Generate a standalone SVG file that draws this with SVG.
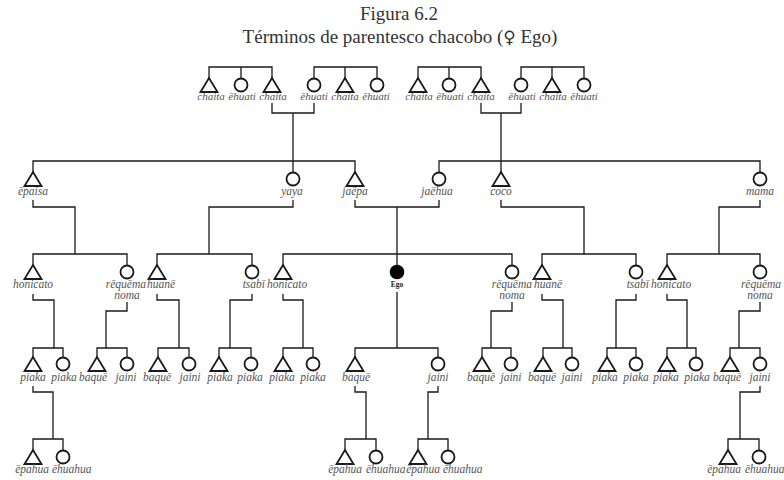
<svg xmlns="http://www.w3.org/2000/svg" xmlns:xlink="http://www.w3.org/1999/xlink" width="784" height="480" viewBox="0 0 784 480">
  <style>
    .ttl { font-family: "Liberation Serif", "DejaVu Serif", serif; font-size: 19px; fill: #333; text-anchor: middle; }
    .sex { font-family: "DejaVu Sans", sans-serif; font-size: 17px; }
    .lbl { font-family: "Liberation Serif", "DejaVu Serif", serif; font-style: italic; font-size: 11.5px; fill: #555; text-anchor: middle; }
    .lbs { font-family: "Liberation Serif", "DejaVu Serif", serif; font-style: italic; font-size: 11px; fill: #555; text-anchor: middle; }
    .st { text-anchor: start; }
    .en { text-anchor: end; }
    .ego { font-family: "Liberation Serif", "DejaVu Serif", serif; font-weight: bold; font-size: 7.5px; fill: #222; text-anchor: middle; }
    .sym { fill: #fff; stroke: #1a1a1a; stroke-width: 1.8; }
    .me { fill: #000; stroke: #000; stroke-width: 1.6; }
    .ln { fill: none; stroke: #1a1a1a; stroke-width: 1.3; }
  </style>
  <defs>
    <!-- male: triangle with apex at origin -->
    <path id="m" d="M0,0 L8.5,14 L-8.5,14 Z"/>
    <!-- female: circle hanging from origin -->
    <circle id="f" cx="0" cy="7" r="6.5"/>
  </defs>

  <text class="ttl" x="399" y="20">Figura 6.2</text>
  <text class="ttl" x="400" y="43">Términos de parentesco chacobo (<tspan class="sex">♀</tspan> Ego)</text>

  <!-- connectors -->
  <g id="connectors" class="ln">
    <!-- grandparent sibling sets -->
    <path d="M209,78 V67 H272 V78 M241,67 V78"/>
    <path d="M314,78 V67 H377 V78 M345,67 V78"/>
    <path d="M418,78 V67 H481 V78 M449,67 V78"/>
    <path d="M521,78 V67 H584 V78 M552,67 V78"/>
    <path d="M272,103 V113 H314 V103 M293,113 V172"/>
    <path d="M481,103 V113 H521 V103 M501,113 V172"/>
    <!-- parents' generation -->
    <path d="M33,172 V161 H355 V172"/>
    <path d="M439,172 V161 H760 V172"/>
    <!-- parents to Ego's generation -->
    <path d="M33,200 V207 H75 V254"/>
    <path d="M293,200 V207 H209 V254"/>
    <path d="M355,200 V207 H439 V200 M397,207 V265"/>
    <path d="M501,200 V207 H584 V254"/>
    <path d="M760,200 V207 H719 V254"/>
    <path d="M33,265 V254 H127 V265"/>
    <path d="M157,265 V254 H252 V265"/>
    <path d="M283,265 V254 H512 V265"/>
    <path d="M542,265 V254 H636 V265"/>
    <path d="M667,265 V254 H760 V265"/>
    <!-- Ego's generation to children -->
    <path d="M33,294 V300 H54 V348"/>
    <path d="M127,302 V311 H106 V348"/>
    <path d="M157,294 V300 H179 V348"/>
    <path d="M252,294 V300 H230 V348"/>
    <path d="M283,294 V300 H303 V348"/>
    <path d="M397,292 V348"/>
    <path d="M512,302 V311 H491 V348"/>
    <path d="M542,294 V300 H563 V348"/>
    <path d="M636,294 V300 H616 V348"/>
    <path d="M667,294 V300 H687 V348"/>
    <path d="M760,302 V311 H739 V348"/>
    <path d="M33,357 V348 H63 V357"/>
    <path d="M97,357 V348 H127 V357"/>
    <path d="M158,357 V348 H189 V357"/>
    <path d="M219,357 V348 H251 V357"/>
    <path d="M283,357 V348 H313 V357"/>
    <path d="M355,357 V348 H438 V357"/>
    <path d="M482,357 V348 H511 V357"/>
    <path d="M543,357 V348 H572 V357"/>
    <path d="M607,357 V348 H636 V357"/>
    <path d="M667,357 V348 H696 V357"/>
    <path d="M730,357 V348 H760 V357"/>
    <!-- children to grandchildren -->
    <path d="M33,386 V392 H53 V439"/>
    <path d="M355,386 V392 H366 V439"/>
    <path d="M438,386 V392 H428 V439"/>
    <path d="M760,386 V392 H740 V439"/>
    <path d="M33,450 V439 H63 V450"/>
    <path d="M345,450 V439 H376 V450"/>
    <path d="M418,450 V439 H448 V450"/>
    <path d="M728,450 V439 H759 V450"/>
  </g>

  <!-- grandparents' generation -->
  <g id="g1a"><use href="#m" class="sym" x="209" y="78"/><text class="lbs" x="211" y="100">chaita</text></g>
  <g id="g1b"><use href="#f" class="sym" x="241" y="78"/><text class="lbs" x="242" y="100">ēhuati</text></g>
  <g id="g1c"><use href="#m" class="sym" x="272" y="78"/><text class="lbs" x="273" y="100">chaita</text></g>
  <g id="g2a"><use href="#f" class="sym" x="314" y="78"/><text class="lbs" x="314" y="100">ēhuati</text></g>
  <g id="g2b"><use href="#m" class="sym" x="345" y="78"/><text class="lbs" x="345" y="100">chaita</text></g>
  <g id="g2c"><use href="#f" class="sym" x="377" y="78"/><text class="lbs" x="376" y="100">ēhuati</text></g>
  <g id="g3a"><use href="#m" class="sym" x="418" y="78"/><text class="lbs" x="419" y="100">chaita</text></g>
  <g id="g3b"><use href="#f" class="sym" x="449" y="78"/><text class="lbs" x="450" y="100">ēhuati</text></g>
  <g id="g3c"><use href="#m" class="sym" x="481" y="78"/><text class="lbs" x="481" y="100">chaita</text></g>
  <g id="g4a"><use href="#f" class="sym" x="521" y="78"/><text class="lbs" x="522" y="100">ēhuati</text></g>
  <g id="g4b"><use href="#m" class="sym" x="552" y="78"/><text class="lbs" x="553" y="100">chaita</text></g>
  <g id="g4c"><use href="#f" class="sym" x="584" y="78"/><text class="lbs" x="584" y="100">ēhuati</text></g>

  <!-- parents' generation -->
  <g id="epaisa"><use href="#m" class="sym" x="33" y="172"/><text class="lbl" x="33" y="195">ēpaisa</text></g>
  <g id="yaya"><use href="#f" class="sym" x="293" y="172"/><text class="lbl" x="292" y="195">yaya</text></g>
  <g id="jaepa"><use href="#m" class="sym" x="355" y="172"/><text class="lbl" x="355" y="195">jaëpa</text></g>
  <g id="jaehua"><use href="#f" class="sym" x="439" y="172"/><text class="lbl" x="437" y="195">jaëhua</text></g>
  <g id="coco"><use href="#m" class="sym" x="501" y="172"/><text class="lbl" x="501" y="195">coco</text></g>
  <g id="mama"><use href="#f" class="sym" x="760" y="172"/><text class="lbl" x="760" y="195">mama</text></g>

  <!-- Ego's generation -->
  <g id="honicato1"><use href="#m" class="sym" x="33" y="265"/><text class="lbl" x="33" y="288">honicato</text></g>
  <g id="requema1"><use href="#f" class="sym" x="127" y="265"/><text class="lbl en" x="146" y="288">rēquēma</text><text class="lbl" x="127" y="299">noma</text></g>
  <g id="huane1"><use href="#m" class="sym" x="157" y="265"/><text class="lbl st" x="147" y="288">huanē</text></g>
  <g id="tsabi1"><use href="#f" class="sym" x="252" y="265"/><text class="lbl en" x="265" y="288">tsabī</text></g>
  <g id="honicato2"><use href="#m" class="sym" x="283" y="265"/><text class="lbl st" x="267" y="288">honicato</text></g>
  <g id="ego"><use href="#f" class="me" x="397" y="265"/><text class="ego" x="397" y="287">Ego</text></g>
  <g id="requema2"><use href="#f" class="sym" x="512" y="265"/><text class="lbl en" x="532" y="288">rēquēma</text><text class="lbl" x="512" y="299">noma</text></g>
  <g id="huane2"><use href="#m" class="sym" x="542" y="265"/><text class="lbl st" x="534" y="288">huanē</text></g>
  <g id="tsabi2"><use href="#f" class="sym" x="636" y="265"/><text class="lbl en" x="649" y="288">tsabī</text></g>
  <g id="honicato3"><use href="#m" class="sym" x="667" y="265"/><text class="lbl st" x="651" y="288">honicato</text></g>
  <g id="requema3"><use href="#f" class="sym" x="760" y="265"/><text class="lbl" x="761" y="288">rēquēma</text><text class="lbl" x="760" y="299">noma</text></g>

  <!-- children's generation -->
  <g id="c1"><use href="#m" class="sym" x="33" y="357"/><text class="lbl" x="33" y="381">piaka</text></g>
  <g id="c2"><use href="#f" class="sym" x="63" y="357"/><text class="lbl" x="64" y="381">piaka</text></g>
  <g id="c3"><use href="#m" class="sym" x="97" y="357"/><text class="lbl" x="93" y="381">baquē</text></g>
  <g id="c4"><use href="#f" class="sym" x="127" y="357"/><text class="lbl" x="126" y="381">jaini</text></g>
  <g id="c5"><use href="#m" class="sym" x="158" y="357"/><text class="lbl" x="157" y="381">baquē</text></g>
  <g id="c6"><use href="#f" class="sym" x="189" y="357"/><text class="lbl" x="190" y="381">jaini</text></g>
  <g id="c7"><use href="#m" class="sym" x="219" y="357"/><text class="lbl" x="220" y="381">piaka</text></g>
  <g id="c8"><use href="#f" class="sym" x="251" y="357"/><text class="lbl" x="250" y="381">piaka</text></g>
  <g id="c9"><use href="#m" class="sym" x="283" y="357"/><text class="lbl" x="282" y="381">piaka</text></g>
  <g id="c10"><use href="#f" class="sym" x="313" y="357"/><text class="lbl" x="313" y="381">piaka</text></g>
  <g id="c11"><use href="#m" class="sym" x="355" y="357"/><text class="lbl" x="356" y="381">baquē</text></g>
  <g id="c12"><use href="#f" class="sym" x="438" y="357"/><text class="lbl" x="438" y="381">jaini</text></g>
  <g id="c13"><use href="#m" class="sym" x="482" y="357"/><text class="lbl" x="481" y="381">baquē</text></g>
  <g id="c14"><use href="#f" class="sym" x="511" y="357"/><text class="lbl" x="511" y="381">jaini</text></g>
  <g id="c15"><use href="#m" class="sym" x="543" y="357"/><text class="lbl" x="542" y="381">baquē</text></g>
  <g id="c16"><use href="#f" class="sym" x="572" y="357"/><text class="lbl" x="572" y="381">jaini</text></g>
  <g id="c17"><use href="#m" class="sym" x="607" y="357"/><text class="lbl" x="605" y="381">piaka</text></g>
  <g id="c18"><use href="#f" class="sym" x="636" y="357"/><text class="lbl" x="636" y="381">piaka</text></g>
  <g id="c19"><use href="#m" class="sym" x="667" y="357"/><text class="lbl" x="666" y="381">piaka</text></g>
  <g id="c20"><use href="#f" class="sym" x="696" y="357"/><text class="lbl" x="697" y="381">piaka</text></g>
  <g id="c21"><use href="#m" class="sym" x="730" y="357"/><text class="lbl" x="727" y="381">baquē</text></g>
  <g id="c22"><use href="#f" class="sym" x="760" y="357"/><text class="lbl" x="760" y="381">jaini</text></g>

  <!-- grandchildren's generation -->
  <g id="n1"><use href="#m" class="sym" x="33" y="450"/><text class="lbl en" x="49" y="473">ēpahua</text></g>
  <g id="n2"><use href="#f" class="sym" x="63" y="450"/><text class="lbl st" x="52" y="473">ēhuahua</text></g>
  <g id="n3"><use href="#m" class="sym" x="345" y="450"/><text class="lbl en" x="362" y="473">ēpahua</text></g>
  <g id="n4"><use href="#f" class="sym" x="376" y="450"/><text class="lbl st" x="366" y="473">ēhuahua</text></g>
  <g id="n5"><use href="#m" class="sym" x="418" y="450"/><text class="lbl en" x="440" y="473">ēpahua</text></g>
  <g id="n6"><use href="#f" class="sym" x="448" y="450"/><text class="lbl st" x="443" y="473">ēhuahua</text></g>
  <g id="n7"><use href="#m" class="sym" x="728" y="450"/><text class="lbl en" x="741" y="473">ēpahua</text></g>
  <g id="n8"><use href="#f" class="sym" x="759" y="450"/><text class="lbl st" x="745" y="473">ēhuahua</text></g>
</svg>
